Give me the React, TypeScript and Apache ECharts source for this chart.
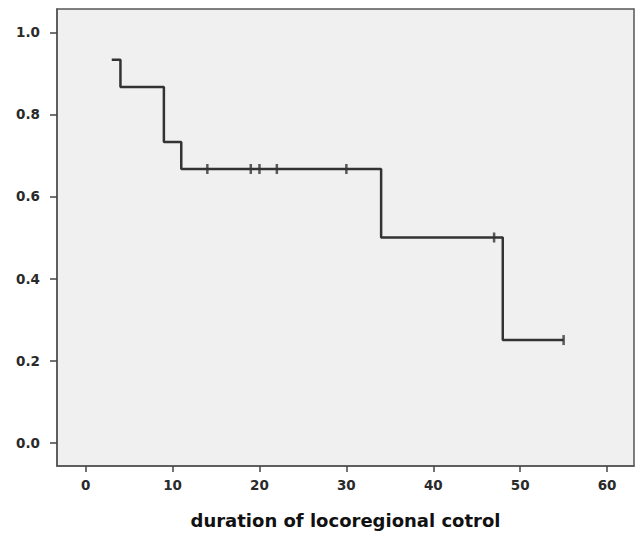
import React, { useEffect, useRef } from "react";
import * as echarts from "echarts";

const stepX = [3, 4, 9, 11, 34, 48, 55];
const stepY = [0.933, 0.867, 0.733, 0.667, 0.5, 0.25, 0.25];
const censorX = [14, 19, 20, 22, 30, 47, 55];
const censorY = [0.667, 0.667, 0.667, 0.667, 0.667, 0.5, 0.25];
const xTicks = [0, 10, 20, 30, 40, 50, 60];
const yTicks = [0, 0.2, 0.4, 0.6, 0.8, 1.0];

export default function App() {
  const ref = useRef<HTMLDivElement>(null);
  useEffect(() => {
    if (!ref.current) return;
    const chart = echarts.init(ref.current, null, { renderer: "svg" });
    const font = "DejaVu Sans, Verdana, sans-serif";
    chart.setOption({
      animation: false,
      backgroundColor: "#ffffff",
      grid: {
        show: true,
        left: 57,
        top: 9,
        right: 4,
        bottom: 67,
        backgroundColor: "#f0f0f0",
        borderColor: "#555555",
        borderWidth: 1.5,
      },
      xAxis: {
        type: "value",
        min: -3.3,
        max: 63.1,
        name: "duration of locoregional cotrol",
        nameLocation: "middle",
        nameGap: 45,
        nameTextStyle: { fontFamily: font, fontSize: 18, fontWeight: "bold", color: "#111" },
        splitLine: { show: false },
        axisLine: { show: true, onZero: false, lineStyle: { color: "#555", width: 1.5 } },
        axisTick: { show: true, length: 6, customValues: xTicks, lineStyle: { color: "#444", width: 1.5 } },
        axisLabel: {
          customValues: xTicks,
          fontFamily: font,
          fontSize: 13.5,
          fontWeight: "bold",
          color: "#2a2a2a",
          margin: 12,
        },
      },
      yAxis: {
        type: "value",
        min: -0.057,
        max: 1.057,
        splitLine: { show: false },
        axisLine: { show: true, onZero: false, lineStyle: { color: "#555", width: 1.5 } },
        axisTick: { show: true, length: 7, customValues: yTicks, lineStyle: { color: "#444", width: 1.5 } },
        axisLabel: {
          customValues: yTicks,
          fontFamily: font,
          fontSize: 13.5,
          fontWeight: "bold",
          color: "#2a2a2a",
          margin: 17,
          formatter: (v: number) => v.toFixed(1),
        },
      },
      series: [
        {
          type: "line",
          step: "end",
          data: stepX.map((x, i) => [x, stepY[i]]),
          showSymbol: false,
          symbol: "none",
          lineStyle: { color: "#333333", width: 2.5 },
          z: 2,
        },
        {
          type: "scatter",
          data: censorX.map((x, i) => [x, censorY[i]]),
          symbol: "rect",
          symbolSize: [2.5, 10],
          itemStyle: { color: "#333333" },
          z: 3,
        },
      ],
    });
    return () => chart.dispose();
  }, []);
  return <div ref={ref} style={{ width: 638, height: 534, position: "absolute", left: 0, top: 0 }} />;
}
